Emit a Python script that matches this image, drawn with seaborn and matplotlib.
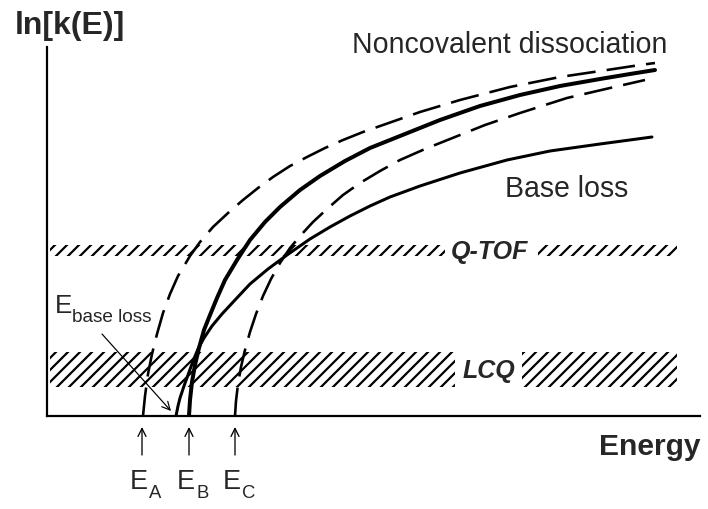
import matplotlib
matplotlib.use("Agg")
import matplotlib.pyplot as plt
import seaborn as sns
import pandas as pd

# ---------------- data (energy / ln k in arbitrary units) ----------------
# Upper dashed curve (starts at E_A)
A_E = [96, 98, 101, 105, 110, 116, 123, 131, 143, 153, 166, 181, 196, 211, 226, 243,
       260, 278, 296, 316, 336, 373, 413, 463, 513, 560, 593, 608]
A_k = [0, 20, 42, 62, 82, 103, 122, 140, 160, 174, 189, 203, 216, 228, 239, 250,
       259, 268, 276, 284, 291, 304, 316, 329, 339, 346, 351, 353]
# Noncovalent dissociation (thick solid, starts at E_B)
B_E = [142, 143, 145, 148, 152, 157, 163, 170, 178, 190, 203, 218, 233, 253, 273, 298,
       323, 353, 393, 433, 473, 513, 553, 583, 608]
B_k = [0, 16, 34, 51, 68, 86, 101, 118, 136, 156, 176, 194, 209, 226, 240, 255,
       268, 280, 296, 310, 321, 330, 337, 342, 346]
# Lower dashed curve (starts at E_C)
C_E = [188, 189, 191, 194, 198, 203, 209, 216, 224, 233, 243, 254, 266, 280, 296, 313,
       333, 353, 378, 408, 438, 473, 520, 563, 598]
C_k = [0, 15, 32, 49, 66, 84, 102, 120, 137, 153, 168, 181, 194, 207, 221, 233,
       245, 256, 267, 279, 291, 303, 318, 328, 336]
# Base loss (solid, starts at E_base loss)
BL_E = [129, 131, 133, 137, 141, 146, 151, 157, 165, 175, 188, 203, 221, 240, 263, 283,
        303, 323, 343, 373, 413, 460, 503, 553, 605]
BL_k = [0, 10, 18, 30, 41, 55, 67, 78, 90, 102, 116, 132, 147, 161, 177, 189,
        200, 210, 219, 230, 243, 256, 265, 272, 279]

# Instrument time-window bands
band_names = ["Q-TOF", "LCQ"]
band_low = [160, 29]
band_high = [171, 64]
band_start = [3, 3]
band_end = [630, 630]
band_gap_start = [398, 408]
band_gap_end = [491, 475]

# Threshold energies marked under the axis
thr_names = ["A", "B", "C"]
thr_E = [95, 142, 188]

X_MAX, Y_MAX = 653, 369

# ---------------- figure ----------------
sns.set_style("white")
plt.rcParams["font.family"] = ["Liberation Sans", "DejaVu Sans"]
plt.rcParams["hatch.linewidth"] = 2.2

DPI = 72
fig = plt.figure(figsize=(708 / DPI, 509 / DPI), dpi=DPI)
ax = fig.add_axes([47 / 708, (509 - 416) / 509, 653 / 708, 369 / 509])
ax.set_xlim(0, X_MAX)
ax.set_ylim(0, Y_MAX)

# hatched bands
for lo, hi, s, e, gs, ge in zip(band_low, band_high, band_start, band_end,
                                band_gap_start, band_gap_end):
    for x0, x1 in [(s, gs), (ge, e)]:
        ax.fill_between([x0, x1], lo, hi, facecolor="none", edgecolor="black",
                        hatch="//", linewidth=0, zorder=1)

dash = (0, (11, 4.3))
curves = [
    (A_E, A_k, 2.6, dash),
    (B_E, B_k, 4.0, "-"),
    (C_E, C_k, 2.6, dash),
    (BL_E, BL_k, 3.0, "-"),
]
for xs, ys, lw, ls in curves:
    df = pd.DataFrame({"E": xs, "k": ys})
    sns.lineplot(data=df, x="E", y="k", ax=ax, color="black", linewidth=lw,
                 linestyle=ls, sort=False, estimator=None, zorder=3,
                 solid_capstyle="round", dash_capstyle="butt")

# axes styling
for side in ["top", "right"]:
    ax.spines[side].set_visible(False)
for side in ["left", "bottom"]:
    ax.spines[side].set_linewidth(2.2)
    ax.spines[side].set_color("black")
ax.set_xticks([])
ax.set_yticks([])
ax.set_xlabel("")
ax.set_ylabel("")

# helper: position in pixel-like units relative to axes origin
def T(x, y, s, **kw):
    ax.text(x, y, s, transform=ax.transData, clip_on=False, **kw)

T(15 - 47, 416 - 34, "ln[k(E)]", fontsize=32, fontweight="bold", ha="left", va="baseline")
T(599 - 47, 416 - 455, "Energy", fontsize=30, fontweight="bold", ha="left", va="baseline")
T(352 - 47, 416 - 53, "Noncovalent dissociation", fontsize=28.5, ha="left", va="baseline")
T(505 - 47, 416 - 197, "Base loss", fontsize=28.5, ha="left", va="baseline")
T(489 - 47, 416 - 259, band_names[0], fontsize=25, fontweight="bold", style="italic",
  ha="center", va="baseline")
T(489 - 47, 416 - 378, band_names[1], fontsize=25, fontweight="bold", style="italic",
  ha="center", va="baseline")

# E_base loss label and arrow
T(55 - 47, 416 - 313, "E", fontsize=26, ha="left", va="baseline")
T(72 - 47, 416 - 322, "base loss", fontsize=19, ha="left", va="baseline")
ax.annotate("", xy=(171 - 47, 416 - 411), xytext=(102 - 47, 416 - 334),
            xycoords="data", textcoords="data", annotation_clip=False,
            arrowprops=dict(arrowstyle="->", color="black", lw=1.2,
                            mutation_scale=20, shrinkA=0, shrinkB=0))

# threshold arrows and labels under the axis
for name, e in zip(thr_names, thr_E):
    ax.annotate("", xy=(e, -11), xytext=(e, -39), xycoords="data", textcoords="data",
                annotation_clip=False,
                arrowprops=dict(arrowstyle="->", color="black", lw=1.3,
                                mutation_scale=20, shrinkA=0, shrinkB=0))
    T(e - 12, -73, "E", fontsize=27, ha="left", va="baseline")
    T(e + 7, -82, name, fontsize=18.5, ha="left", va="baseline")

fig.savefig("out.png", dpi=DPI, facecolor="white")
